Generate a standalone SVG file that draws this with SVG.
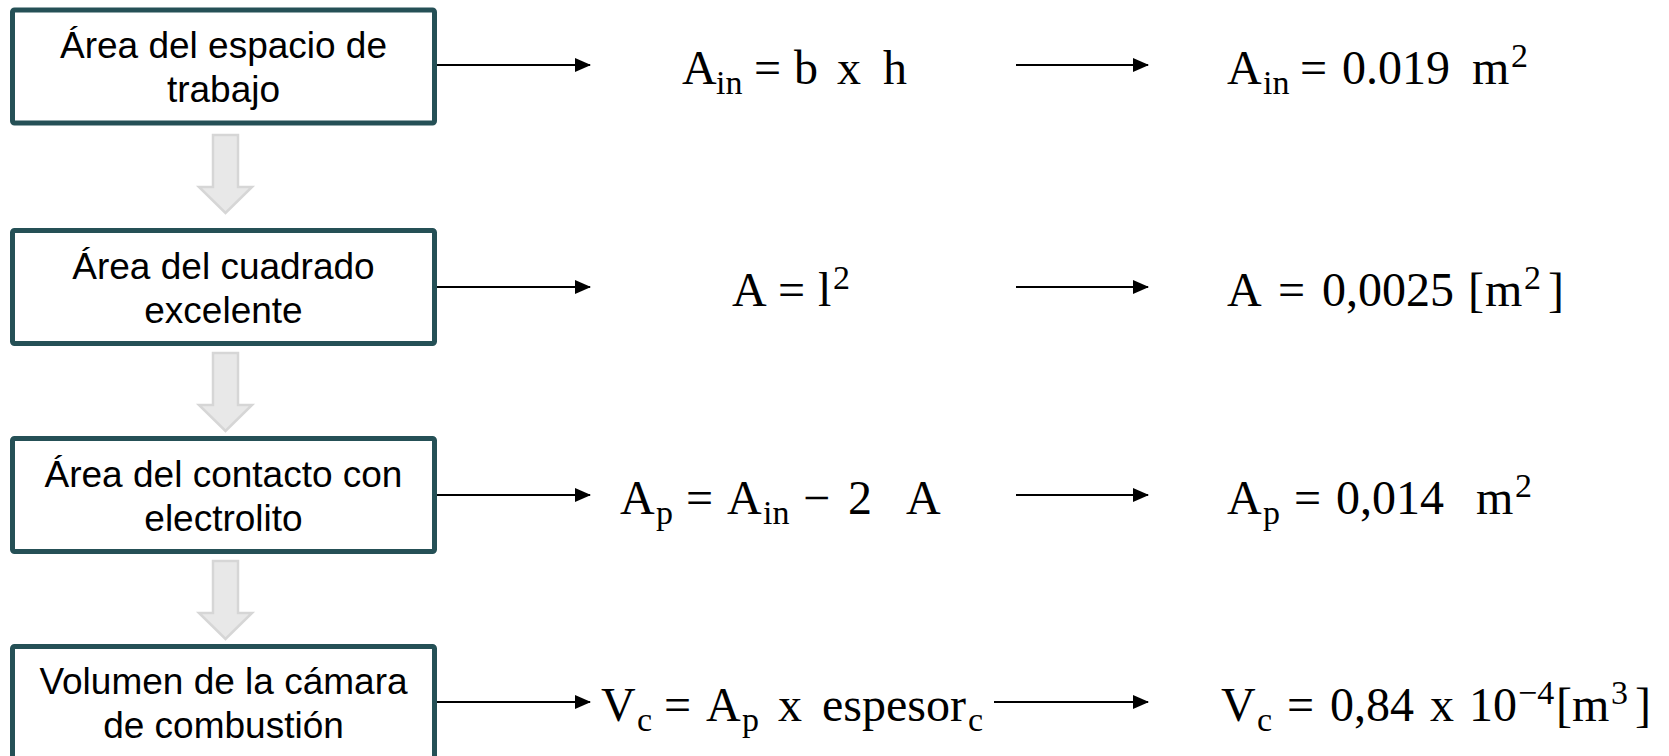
<svg xmlns="http://www.w3.org/2000/svg" width="1669" height="756" viewBox="0 0 1669 756">
<defs>
<marker id="ah" markerUnits="userSpaceOnUse" markerWidth="16" markerHeight="14" refX="15" refY="7" orient="auto">
<path d="M0,0 L16,7 L0,14 Z" fill="#000"/>
</marker>
<style>
.box{fill:#fff;stroke:#255056;stroke-width:5}
.bt{font-family:"Liberation Sans",Arial,sans-serif;font-size:37px;fill:#000;text-anchor:middle}
.m{font-family:"Liberation Serif","Times New Roman",serif;font-size:48px;fill:#000}
.s{font-size:34px}
.con{stroke:#000;stroke-width:2.2;fill:none;marker-end:url(#ah)}
.down{fill:#e8e8e8;stroke:#d6d6d6;stroke-width:2.5;stroke-linejoin:miter}
</style>
</defs>
<rect width="1669" height="756" fill="#fff"/>

<g id="node1">
<rect class="box" x="12.5" y="10" width="422" height="113" rx="2"/>
<text class="bt" x="223.5" y="58">Área del espacio de</text>
<text class="bt" x="223.5" y="102">trabajo</text>
</g>
<g id="node2">
<rect class="box" x="12.5" y="230.5" width="422" height="113" rx="2"/>
<text class="bt" x="223.5" y="279">Área del cuadrado</text>
<text class="bt" x="223.5" y="323">excelente</text>
</g>
<g id="node3">
<rect class="box" x="12.5" y="438.5" width="422" height="113" rx="2"/>
<text class="bt" x="223.5" y="487">Área del contacto con</text>
<text class="bt" x="223.5" y="531">electrolito</text>
</g>
<g id="node4">
<rect class="box" x="12.5" y="646.5" width="422" height="113" rx="2"/>
<text class="bt" x="223.5" y="694">Volumen de la cámara</text>
<text class="bt" x="223.5" y="738">de combustión</text>
</g>

<g id="formula1">
<text class="m"><tspan x="682" y="84">A</tspan><tspan class="s" x="716" y="94">in</tspan><tspan x="754" y="84">=</tspan><tspan x="794" y="84">b</tspan><tspan x="837" y="84">x</tspan><tspan x="883" y="84">h</tspan></text>
</g>
<g id="result1">
<text class="m"><tspan x="1227" y="84">A</tspan><tspan class="s" x="1263" y="94">in</tspan><tspan x="1300" y="84">=</tspan><tspan x="1342" y="84">0.019</tspan><tspan x="1472" y="84">m</tspan><tspan class="s" x="1511" y="67">2</tspan></text>
</g>
<g id="formula2">
<text class="m"><tspan x="732" y="306">A</tspan><tspan x="778" y="306">=</tspan><tspan x="818" y="306">l</tspan><tspan class="s" x="833" y="289">2</tspan></text>
</g>
<g id="result2">
<text class="m"><tspan x="1227" y="306">A</tspan><tspan x="1278" y="306">=</tspan><tspan x="1322" y="306">0,0025</tspan><tspan x="1468" y="306">[</tspan><tspan x="1485" y="306">m</tspan><tspan class="s" x="1524" y="289">2</tspan><tspan x="1548" y="306">]</tspan></text>
</g>
<g id="formula3">
<text class="m"><tspan x="620" y="514">A</tspan><tspan class="s" x="656" y="524">p</tspan><tspan x="686" y="514">=</tspan><tspan x="727" y="514">A</tspan><tspan class="s" x="763" y="524">in</tspan><tspan x="803" y="514">−</tspan><tspan x="848" y="514">2</tspan><tspan x="906" y="514">A</tspan></text>
</g>
<g id="result3">
<text class="m"><tspan x="1227" y="514">A</tspan><tspan class="s" x="1263" y="524">p</tspan><tspan x="1294" y="514">=</tspan><tspan x="1336" y="514">0,014</tspan><tspan x="1476" y="514">m</tspan><tspan class="s" x="1515" y="497">2</tspan></text>
</g>
<g id="formula4">
<text class="m"><tspan x="601" y="721">V</tspan><tspan class="s" x="637" y="731">c</tspan><tspan x="664" y="721">=</tspan><tspan x="706" y="721">A</tspan><tspan class="s" x="742" y="731">p</tspan><tspan x="778" y="721">x</tspan><tspan x="822" y="721">espesor</tspan><tspan class="s" x="968" y="731">c</tspan></text>
</g>
<g id="result4">
<text class="m"><tspan x="1221" y="721">V</tspan><tspan class="s" x="1257" y="731">c</tspan><tspan x="1287" y="721">=</tspan><tspan x="1330" y="721">0,84</tspan><tspan x="1430" y="721">x</tspan><tspan x="1469" y="721">10</tspan><tspan class="s" x="1518" y="704">−4</tspan><tspan x="1556" y="721">[</tspan><tspan x="1572" y="721">m</tspan><tspan class="s" x="1611" y="704">3</tspan><tspan x="1635" y="721">]</tspan></text>
</g>

<g id="connectors">
<polygon class="down" points="213,135 238,135 238,187 252,187 225.5,213 199,187 213,187"/>
<polygon class="down" points="213,353 238,353 238,405 252,405 225.5,431 199,405 213,405"/>
<polygon class="down" points="213,561 238,561 238,613 252,613 225.5,639 199,613 213,613"/>
<line class="con" x1="437" y1="65" x2="590" y2="65"/>
<line class="con" x1="1016" y1="65" x2="1148" y2="65"/>
<line class="con" x1="437" y1="287" x2="590" y2="287"/>
<line class="con" x1="1016" y1="287" x2="1148" y2="287"/>
<line class="con" x1="437" y1="495" x2="590" y2="495"/>
<line class="con" x1="1016" y1="495" x2="1148" y2="495"/>
<line class="con" x1="437" y1="702" x2="590" y2="702"/>
<line class="con" x1="994" y1="702" x2="1148" y2="702"/>
</g>
</svg>
